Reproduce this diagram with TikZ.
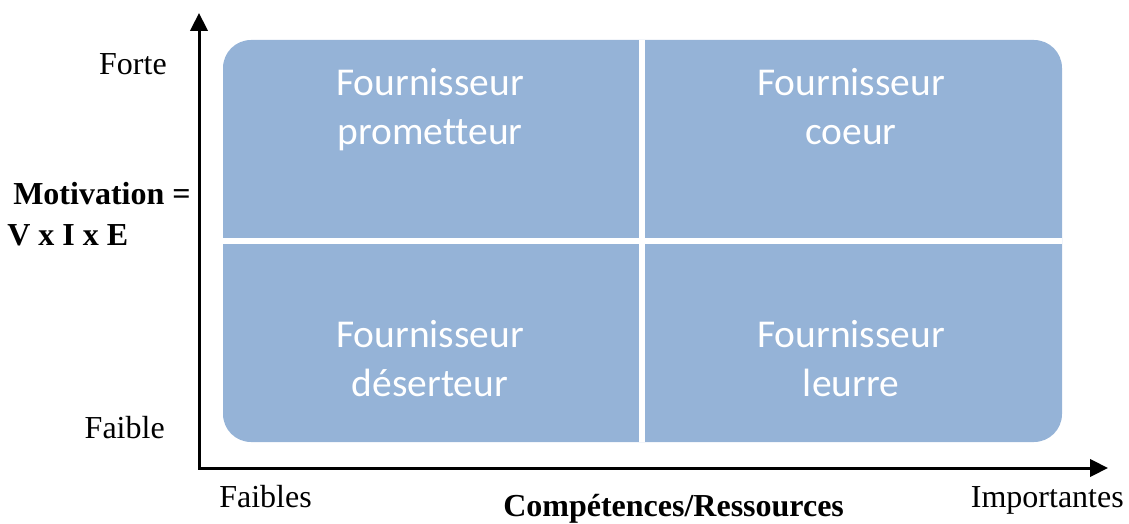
\documentclass[tikz,border=0pt]{standalone}
\usepackage{fontspec}
\setmainfont{Liberation Serif}
\newfontfamily\quadfont[Ligatures=NoCommon]{Carlito}
\usetikzlibrary{arrows.meta}

\definecolor{quadblue}{RGB}{149,179,215}

\tikzset{
    axisline/.style = {line width=2.25pt, line join=miter, {Triangle[length=13.5pt,width=13pt]}-{Triangle[length=13.5pt,width=13pt]}},
    sepline/.style = {white, line width=4.5pt},
    quadtext/.style = {white, align=center, inner sep=0pt, anchor=base, font=\quadfont\fontsize{29.6}{36.75}\selectfont},
    axistext/.style = {inner sep=0pt, font=\fontsize{24}{28}\selectfont}
}

\begin{document}
\begin{tikzpicture}[x=0.75pt, y=-0.75pt]
        \useasboundingbox (0,0) rectangle (1129,524);
        \begin{scope}
            % quadrants
            \fill [quadblue, rounded corners=21pt] (223,40) rectangle (1062,442);
            \draw [sepline] (642,40) -- (642,442);
            \draw [sepline] (223,241) -- (1062,241);
            \node [quadtext] (a) at (430,145) {Fournisseur\\prometteur};
            \node [quadtext] (b) at (851,145) {Fournisseur\\coeur};
            \node [quadtext] (c) at (430,396) {Fournisseur\\déserteur};
            \node [quadtext] (d) at (851,396) {Fournisseur\\leurre};

            % axes
            \coordinate (o) at (199,468);
            \coordinate (ytop) at (199,13);
            \coordinate (xend) at (1108,468);
            \draw [axisline] (ytop) -- (o) -- (xend);

            % labels
            \node [axistext, anchor=base east] (forte) at (167,75) {Forte};
            \node [axistext, anchor=base east] (faible) at (165,438) {Faible};
            \node [axistext, anchor=base west, font=\fontsize{24}{28}\selectfont\bfseries] (mot) at (13,205) {Motivation =};
            \node [axistext, anchor=base west, font=\fontsize{24}{28}\selectfont\bfseries] (vie) at (7,246) {V x I x E};
            \node [axistext, anchor=base west] (faibles) at (219,507) {Faibles};
            \node [axistext, anchor=base west, font=\fontsize{24}{28}\selectfont\bfseries] (comp) at (503,516) {Compétences/Ressources};
            \node [axistext, anchor=base east] (imp) at (1124,507) {Importantes};
        \end{scope}
    \end{tikzpicture}
\end{document}
